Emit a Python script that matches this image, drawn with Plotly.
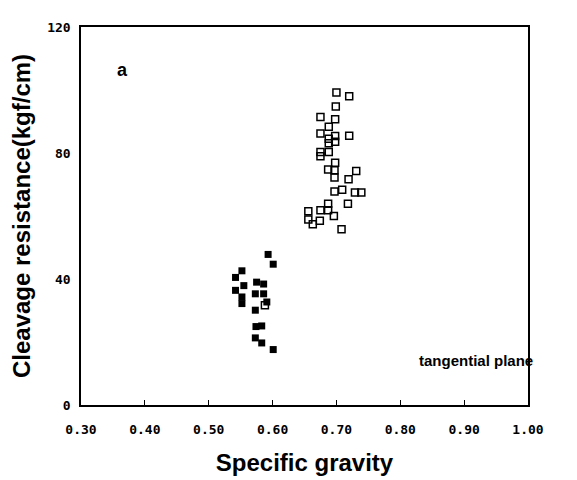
import plotly.graph_objects as go

# Filled squares (lower cluster)
filled_sg = [0.593, 0.601, 0.552, 0.542, 0.542, 0.555, 0.575, 0.586, 0.552, 0.552,
             0.573, 0.586, 0.591, 0.573, 0.574, 0.583, 0.573, 0.583, 0.601]
filled_cr = [47.8, 44.7, 42.6, 40.5, 36.4, 37.9, 39.0, 38.4, 34.3, 32.2,
             35.3, 35.3, 32.7, 30.1, 24.9, 25.1, 21.3, 19.7, 17.6]

# Open squares (upper cluster)
open_sg = [0.700, 0.720, 0.699, 0.675, 0.698, 0.688, 0.675, 0.698, 0.720, 0.688,
           0.698, 0.688, 0.675, 0.688, 0.675, 0.698, 0.687, 0.697, 0.731, 0.697,
           0.719, 0.697, 0.709, 0.729, 0.739, 0.718, 0.687, 0.675, 0.656, 0.687,
           0.696, 0.656, 0.663, 0.674, 0.708, 0.588]
open_cr = [99.2, 98.0, 94.8, 91.4, 90.7, 88.3, 86.2, 85.4, 85.5, 84.5,
           83.6, 83.1, 80.3, 80.3, 79.0, 76.9, 74.8, 74.5, 74.3, 72.2,
           71.7, 67.8, 68.3, 67.5, 67.5, 63.9, 63.9, 61.8, 61.5, 61.8,
           60.0, 58.9, 57.4, 58.5, 55.8, 31.7]

x_ticks = [0.30, 0.40, 0.50, 0.60, 0.70, 0.80, 0.90, 1.00]
y_ticks = [0, 40, 80, 120]

fig = go.Figure()
fig.add_trace(go.Scatter(x=filled_sg, y=filled_cr, mode="markers",
                         marker=dict(symbol="square", size=7, color="black",
                                     line=dict(width=0)),
                         showlegend=False))
fig.add_trace(go.Scatter(x=open_sg, y=open_cr, mode="markers",
                         marker=dict(symbol="square-open", size=7, color="black",
                                     line=dict(width=1.5)),
                         showlegend=False))

tickfont = dict(family="DejaVu Sans Mono", size=13, color="black", weight="bold")
titlefont = dict(family="Liberation Sans", size=24, color="black", weight="bold")
fig.update_layout(
    width=577, height=480,
    margin=dict(l=70, r=57, t=12, b=83),
    paper_bgcolor="white", plot_bgcolor="white",
    xaxis=dict(range=[0.30, 1.00], tickvals=x_ticks,
               ticktext=[f"{v:.2f}" for v in x_ticks],
               showgrid=False, zeroline=False, showline=True, linecolor="black",
               linewidth=1.5, mirror=True, ticks="inside", ticklen=5,
               tickcolor="black", tickfont=tickfont, ticklabelstandoff=12,
               title=dict(text="Specific gravity", standoff=18, font=titlefont)),
    yaxis=dict(range=[0, 120], tickvals=y_ticks,
               showgrid=False, zeroline=False, showline=True, linecolor="black",
               linewidth=1.5, mirror=True, ticks="inside", ticklen=0,
               tickcolor="black", tickfont=tickfont, ticklabelstandoff=6,
               title=dict(text="Cleavage resistance(kgf/cm)", standoff=10,
                          font=titlefont)),
    annotations=[
        dict(x=0.3655, y=106.5, xref="x", yref="y", text="<b>a</b>", showarrow=False,
             font=dict(family="Liberation Sans", size=18, color="black")),
        dict(x=0.918, y=14, xref="x", yref="y", text="<b>tangential plane</b>",
             showarrow=False,
             font=dict(family="Liberation Sans", size=15, color="black")),
    ],
)

fig.write_html("out.html")
